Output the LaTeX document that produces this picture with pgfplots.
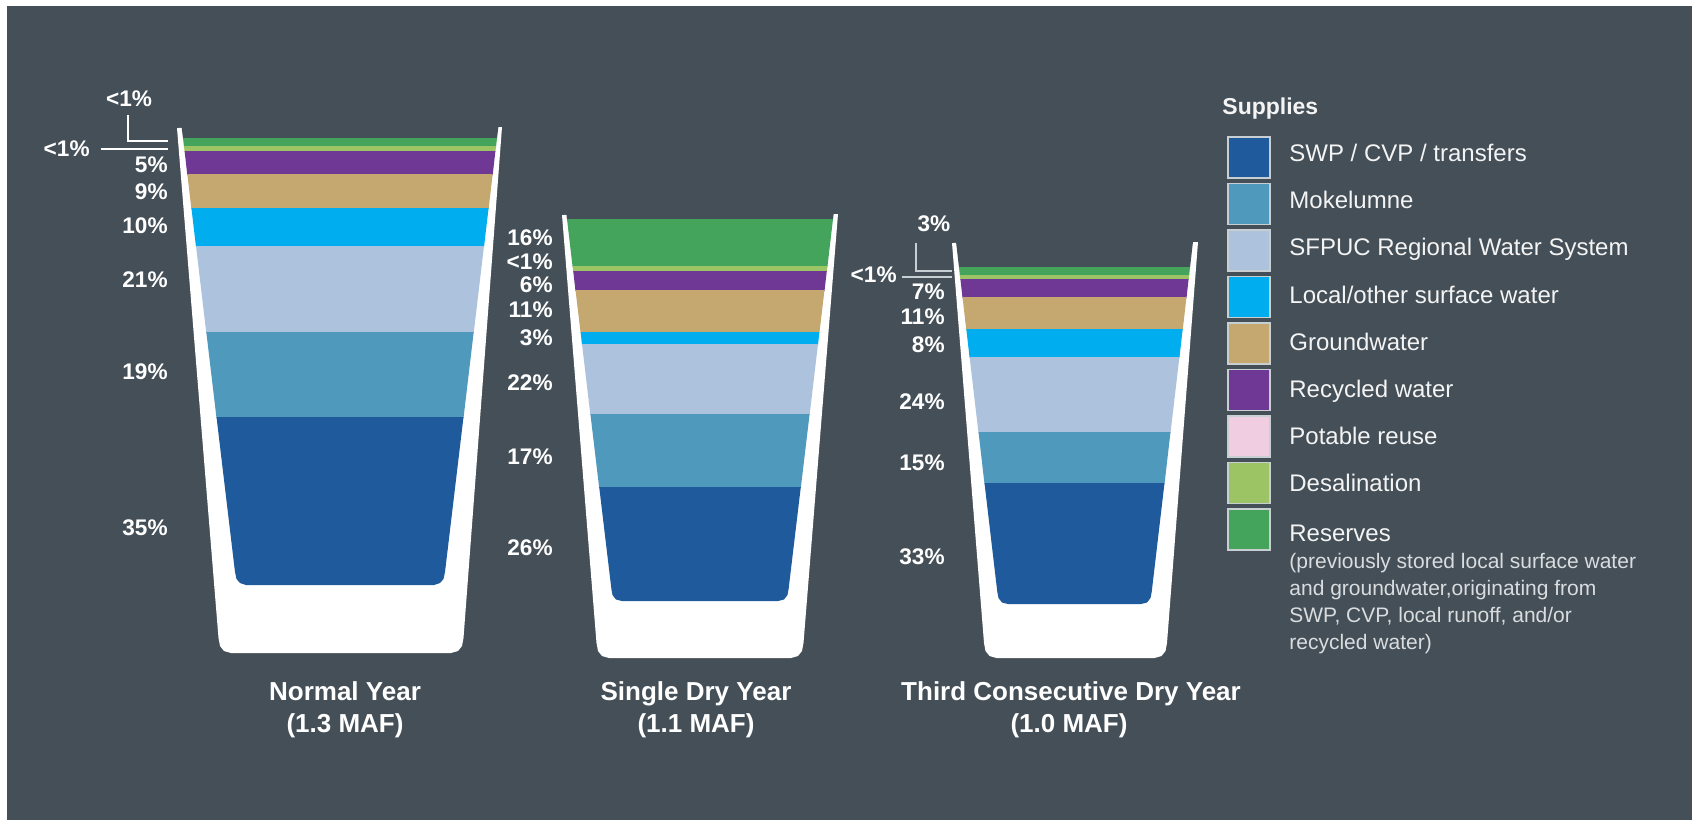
\documentclass[border=0pt]{standalone}
\usepackage{pgfplots}
\pgfplotsset{compat=1.18}
\usepackage{fontspec}
\setmainfont{Liberation Sans}
\definecolor{bg}{HTML}{444F57}
\definecolor{cSWP}{HTML}{1F5B9C}
\definecolor{cMok}{HTML}{4F99BD}
\definecolor{cSF}{HTML}{ADC2DC}
\definecolor{cLoc}{HTML}{00AEEF}
\definecolor{cGW}{HTML}{C5A870}
\definecolor{cRec}{HTML}{6F3894}
\definecolor{cPot}{HTML}{F0CDE0}
\definecolor{cDes}{HTML}{9CC465}
\definecolor{cRes}{HTML}{44A45B}
\definecolor{txt}{HTML}{F4F4F4}
\definecolor{sub}{HTML}{DADDDF}
\definecolor{swb}{HTML}{C8CFD3}
\pgfplotsset{
  poly/.style={fill=#1, draw=none, forget plot, mark=none},
}
\tikzset{
  pct/.style={font=\fontsize{11.3}{13}\selectfont\bfseries, text=white, inner sep=0pt},
  ttl/.style={font=\fontsize{13}{15}\selectfont\bfseries, text=white, inner sep=0pt, anchor=base},
  leg/.style={font=\fontsize{12}{14}\selectfont, text=txt, inner sep=0pt, anchor=base west},
  legd/.style={font=\fontsize{10.5}{12}\selectfont, text=sub, inner sep=0pt, anchor=base west},
}
\begin{document}
\begin{tikzpicture}
\begin{axis}[width=846pt, height=410pt, scale only axis,
  xmin=0, xmax=1692, ymin=0, ymax=820, y dir=reverse,
  hide axis, clip=false, no markers]
% page and background
\addplot[poly=white] coordinates {(0,0)(1692,0)(1692,820)(0,820)};
\addplot[poly=bg] coordinates {(7,6)(1692,6)(1692,820)(7,820)};

% ===== Cup 1: Normal Year =====
\addplot[poly=white] coordinates {(177,128)(502,127)(463.5,638)(462,646)(458,651)(451,653)(231,653)(224,651)(220,646)(218.5,638)};
\addplot[poly=bg] coordinates {(180.8,120)(499.2,120)(497,138.5)(183,138.5)};
\addplot[poly=cRes] coordinates {(183,138)(497,138)(496,147)(184,147)};
\addplot[poly=cDes] coordinates {(184,146)(496,146)(495.4,152)(184.6,152)};
\addplot[poly=cRec] coordinates {(184.6,151)(495.4,151)(492.7,175)(187.3,175)};
\addplot[poly=cGW]  coordinates {(187.3,174)(492.7,174)(488.6,209)(191.4,209)};
\addplot[poly=cLoc] coordinates {(191.4,208)(488.6,208)(484,247)(196,247)};
\addplot[poly=cSF]  coordinates {(196,246)(484,246)(473.7,333)(206.3,333)};
\addplot[poly=cMok] coordinates {(206.3,332)(473.7,332)(463.5,418)(216.5,418)};
\addplot[poly=cSWP] coordinates {(216.5,417)(463.5,417)(445,572)(443.5,579)(440,583)(434,585)(246,585)(240,583)(236.5,579)(235,572)};

% ===== Cup 2: Single Dry Year =====
\addplot[poly=white] coordinates {(562,215)(838,214)(803.5,643)(802,651)(798,656)(791,658)(609,658)(602,656)(598,651)(596.5,643)};
\addplot[poly=bg] coordinates {(565.3,205)(834.7,205)(833,219.5)(567,219.5)};
\addplot[poly=cRes] coordinates {(567,219)(833,219)(827.4,267)(572.6,267)};
\addplot[poly=cDes] coordinates {(572.6,266)(827.4,266)(826.8,272)(573.2,272)};
\addplot[poly=cRec] coordinates {(573.2,271)(826.8,271)(824.5,291)(575.5,291)};
\addplot[poly=cGW]  coordinates {(575.5,290)(824.5,290)(819.4,333)(580.6,333)};
\addplot[poly=cLoc] coordinates {(580.6,332)(819.4,332)(818,345)(582,345)};
\addplot[poly=cSF]  coordinates {(582,344)(818,344)(809.6,415)(590.4,415)};
\addplot[poly=cMok] coordinates {(590.4,414)(809.6,414)(800.8,488)(599.2,488)};
\addplot[poly=cSWP] coordinates {(599.2,487)(800.8,487)(788.6,589)(787.5,595)(784,599.5)(778,601)(622,601)(616,599.5)(612.5,595)(611.4,589)};

% ===== Cup 3: Third Consecutive Dry Year =====
\addplot[poly=white] coordinates {(952,243)(1198,242)(1167,643)(1165.5,651)(1161.5,656)(1154.5,658)(996.5,658)(989.5,656)(985.5,651)(984,643)};
\addplot[poly=bg] coordinates {(954.9,232)(1194.1,232)(1190,267.5)(959,267.5)};
\addplot[poly=cRes] coordinates {(959,267)(1190,267)(1189.1,276)(959.9,276)};
\addplot[poly=cDes] coordinates {(959.9,275)(1189.1,275)(1188.6,280)(960.4,280)};
\addplot[poly=cRec] coordinates {(960.4,279)(1188.6,279)(1186.5,298)(962.5,298)};
\addplot[poly=cGW]  coordinates {(962.5,297)(1186.5,297)(1182.7,330)(966.3,330)};
\addplot[poly=cLoc] coordinates {(966.3,329)(1182.7,329)(1179.4,358)(969.6,358)};
\addplot[poly=cSF]  coordinates {(969.6,357)(1179.4,357)(1170.5,433)(978.5,433)};
\addplot[poly=cMok] coordinates {(978.5,432)(1170.5,432)(1164.5,484)(984.5,484)};
\addplot[poly=cSWP] coordinates {(984.5,483)(1164.5,483)(1151.7,592)(1150.5,598)(1147,602.5)(1141,604)(1008,604)(1002,602.5)(998.5,598)(997.3,592)};

% ===== leader lines =====
\addplot[white, line width=1pt, forget plot] coordinates {(127.7,115)(127.7,140.5)(168,140.5)};
\addplot[white, line width=1pt, forget plot] coordinates {(100.7,149)(168,149)};
\addplot[swb, line width=1pt, forget plot] coordinates {(916,243)(916,271)(952,271)};
\addplot[swb, line width=1pt, forget plot] coordinates {(902,277)(952,277)};

% ===== percentage labels =====
\node[pct, anchor=center] at (axis cs:129,99) {<1\%};
\node[pct, anchor=east] at (axis cs:90,149) {<1\%};
\node[pct, anchor=east] at (axis cs:168,165) {5\%};
\node[pct, anchor=east] at (axis cs:168,192) {9\%};
\node[pct, anchor=east] at (axis cs:168,226) {10\%};
\node[pct, anchor=east] at (axis cs:168,280) {21\%};
\node[pct, anchor=east] at (axis cs:168,372) {19\%};
\node[pct, anchor=east] at (axis cs:168,528) {35\%};

\node[pct, anchor=east] at (axis cs:553,238) {16\%};
\node[pct, anchor=east] at (axis cs:553,262) {<1\%};
\node[pct, anchor=east] at (axis cs:553,285) {6\%};
\node[pct, anchor=east] at (axis cs:553,310) {11\%};
\node[pct, anchor=east] at (axis cs:553,338) {3\%};
\node[pct, anchor=east] at (axis cs:553,383) {22\%};
\node[pct, anchor=east] at (axis cs:553,457) {17\%};
\node[pct, anchor=east] at (axis cs:553,548) {26\%};

\node[pct, anchor=center] at (axis cs:934,224) {3\%};
\node[pct, anchor=east] at (axis cs:897,275) {<1\%};
\node[pct, anchor=east] at (axis cs:945,292) {7\%};
\node[pct, anchor=east] at (axis cs:945,317) {11\%};
\node[pct, anchor=east] at (axis cs:945,345) {8\%};
\node[pct, anchor=east] at (axis cs:945,402) {24\%};
\node[pct, anchor=east] at (axis cs:945,463) {15\%};
\node[pct, anchor=east] at (axis cs:945,557) {33\%};

% ===== titles =====
\node[ttl] at (axis cs:345,700) {Normal Year};
\node[ttl] at (axis cs:345,732) {(1.3 MAF)};
\node[ttl] at (axis cs:696,700) {Single Dry Year};
\node[ttl] at (axis cs:696,732) {(1.1 MAF)};
\node[ttl] at (axis cs:1071,700) {Third Consecutive Dry Year};
\node[ttl] at (axis cs:1069,732) {(1.0 MAF)};

% ===== legend =====
\node[font=\fontsize{11.5}{13}\selectfont\bfseries, text=txt, inner sep=0pt, anchor=base west] at (axis cs:1222,114) {Supplies};
\addplot[fill=cSWP, draw=swb, line width=0.8pt, forget plot] coordinates {(1228,137)(1270,137)(1270,178)(1228,178)} -- cycle;
\addplot[fill=cMok, draw=swb, line width=0.8pt, forget plot] coordinates {(1228,183.5)(1270,183.5)(1270,224.5)(1228,224.5)} -- cycle;
\addplot[fill=cSF, draw=swb, line width=0.8pt, forget plot] coordinates {(1228,230)(1270,230)(1270,271)(1228,271)} -- cycle;
\addplot[fill=cLoc, draw=swb, line width=0.8pt, forget plot] coordinates {(1228,276.5)(1270,276.5)(1270,317.5)(1228,317.5)} -- cycle;
\addplot[fill=cGW, draw=swb, line width=0.8pt, forget plot] coordinates {(1228,323)(1270,323)(1270,364)(1228,364)} -- cycle;
\addplot[fill=cRec, draw=swb, line width=0.8pt, forget plot] coordinates {(1228,369.5)(1270,369.5)(1270,410.5)(1228,410.5)} -- cycle;
\addplot[fill=cPot, draw=swb, line width=0.8pt, forget plot] coordinates {(1228,416)(1270,416)(1270,457)(1228,457)} -- cycle;
\addplot[fill=cDes, draw=swb, line width=0.8pt, forget plot] coordinates {(1228,462.5)(1270,462.5)(1270,503.5)(1228,503.5)} -- cycle;
\addplot[fill=cRes, draw=swb, line width=0.8pt, forget plot] coordinates {(1228,509)(1270,509)(1270,550)(1228,550)} -- cycle;

\node[leg] at (axis cs:1289,161.7) {SWP / CVP / transfers};
\node[leg] at (axis cs:1289,208.8) {Mokelumne};
\node[leg] at (axis cs:1289,255.9) {SFPUC Regional Water System};
\node[leg] at (axis cs:1289,303) {Local/other surface water};
\node[leg] at (axis cs:1289,350.1) {Groundwater};
\node[leg] at (axis cs:1289,397.2) {Recycled water};
\node[leg] at (axis cs:1289,444.3) {Potable reuse};
\node[leg] at (axis cs:1289,491.4) {Desalination};
\node[leg] at (axis cs:1289,541.7) {Reserves};
\node[legd] at (axis cs:1289,568) {(previously stored local surface water};
\node[legd] at (axis cs:1289,595) {and groundwater,originating from};
\node[legd] at (axis cs:1289,622) {SWP, CVP, local runoff, and/or};
\node[legd] at (axis cs:1289,649) {recycled water)};
\end{axis}
\end{tikzpicture}
\end{document}
